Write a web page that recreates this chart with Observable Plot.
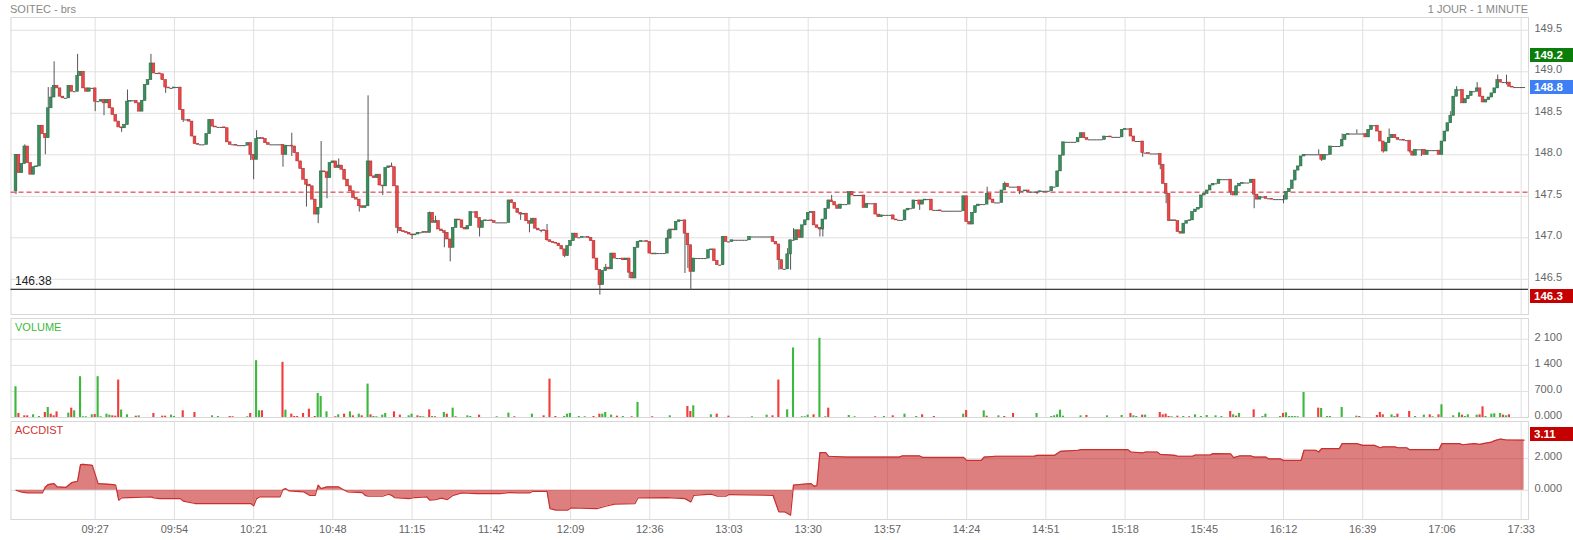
<!DOCTYPE html>
<html><head><meta charset="utf-8">
<script src="https://cdn.jsdelivr.net/npm/d3@7"></script>
<script src="https://cdn.jsdelivr.net/npm/@observablehq/plot@0.6"></script>
<style>
html,body{margin:0;padding:0;background:#fff;overflow:hidden;}
#wrap{position:relative;width:1573px;height:540px;overflow:hidden;font-family:"Liberation Sans",Arial,sans-serif;}
.t{position:absolute;font-size:11px;line-height:12px;white-space:nowrap;}
.box{position:absolute;left:1530px;width:39px;height:14px;line-height:14px;padding-left:4px;color:#fff;font-weight:bold;font-size:11.5px;}
.chart{position:absolute;left:0;}
#c2 svg{overflow:visible;}
</style></head><body>
<div id="wrap">
  <div class="t" style="left:10px;top:3px;color:#888;">SOITEC - brs</div>
  <div class="t" style="right:45px;top:3px;color:#888;">1 JOUR - 1 MINUTE</div>
  <div id="c1" class="chart" style="top:0px"></div>
  <div id="c3" class="chart" style="top:419px"></div>
  <div id="c2" class="chart" style="top:316px"></div>
  <div class="t" style="left:15px;top:275px;color:#222;font-size:12px;">146.38</div>
  <div class="t" style="left:15px;top:321px;color:#3cba3c;">VOLUME</div>
  <div class="t" style="left:15px;top:424px;color:#cc3333;">ACCDIST</div>
  <div class="box" style="top:47.5px;background:#0b7d0b;">149.2</div>
  <div class="box" style="top:79.5px;background:#3e7ff5;">148.8</div>
  <div class="box" style="top:288.5px;background:#c40000;">146.3</div>
  <div class="box" style="top:426.5px;background:#c40000;">3.11</div>
</div>
<script>
// ---------- DATA ----------
const timeTickLabels = ["09:27","09:54","10:21","10:48","11:15","11:42","12:09","12:36","13:03","13:30","13:57","14:24","14:51","15:18","15:45","16:12","16:39","17:06","17:33"];
const priceTicks = [146.5, 147.0, 147.5, 148.0, 148.5, 149.0, 149.5];
const volumeTicks = [0, 700, 1400, 2100];
const volumeTickLabels = ["0.000", "700.0", "1 400", "2 100"];
const accTicks = [0, 2];
const prevClose = 147.55;
const refLevel = 146.38;
const firstOpen = 147.56;
// one close per minute from 09:00
const closes = [
148.00,147.78,147.89,148.10,147.90,147.76,147.85,147.86,148.35,148.25,
148.20,148.56,148.69,148.83,148.80,148.70,148.68,148.68,148.83,148.76,
148.76,148.95,149.00,148.80,148.76,148.80,148.80,148.64,148.64,148.66,
148.62,148.66,148.56,148.48,148.40,148.33,148.32,148.36,148.64,148.65,
148.65,148.62,148.52,148.65,148.84,148.90,149.10,148.98,148.98,148.97,
148.90,148.81,148.80,148.80,148.81,148.81,148.54,148.42,148.42,148.40,
148.22,148.13,148.12,148.12,148.12,148.25,148.42,148.34,148.33,148.33,
148.33,148.32,148.15,148.12,148.12,148.11,148.11,148.11,148.11,148.14,
148.00,147.94,148.19,148.20,148.19,148.14,148.12,148.12,148.12,148.12,
148.12,148.00,148.11,148.11,148.10,148.02,147.92,147.83,147.70,147.64,
147.62,147.46,147.28,147.36,147.80,147.79,147.72,147.90,147.92,147.84,
147.87,147.82,147.70,147.62,147.56,147.48,147.46,147.38,147.36,147.38,
147.92,147.74,147.72,147.76,147.63,147.62,147.84,147.86,147.85,147.62,
147.12,147.08,147.07,147.06,147.04,147.03,147.04,147.06,147.06,147.07,
147.06,147.30,147.18,147.20,147.10,147.08,147.06,146.98,146.88,147.12,
147.22,147.21,147.12,147.10,147.14,147.31,147.31,147.24,147.12,147.20,
147.21,147.21,147.20,147.18,147.18,147.18,147.18,147.18,147.45,147.42,
147.35,147.30,147.28,147.29,147.20,147.17,147.23,147.11,147.09,147.09,
147.08,146.97,146.95,146.94,146.93,146.90,146.86,146.78,146.90,146.96,
147.05,147.00,147.00,147.01,147.01,147.00,146.96,146.75,146.61,146.43,
146.60,146.64,146.62,146.81,146.75,146.75,146.75,146.73,146.75,146.58,
146.51,146.88,146.95,146.96,146.96,146.95,146.81,146.80,146.81,146.81,
146.81,146.81,146.99,147.10,147.09,147.19,147.21,147.21,147.05,146.91,
146.59,146.75,146.75,146.75,146.75,146.75,146.85,146.86,146.72,146.67,
146.67,147.01,146.95,146.95,146.97,146.97,146.97,146.97,146.97,146.97,
147.01,147.01,147.01,147.01,147.01,147.01,147.01,147.01,146.95,146.92,
146.73,146.62,146.62,146.80,146.97,146.97,147.09,147.00,147.15,147.21,
147.30,147.31,147.15,147.12,147.10,147.22,147.35,147.45,147.43,147.39,
147.35,147.40,147.40,147.40,147.55,147.51,147.51,147.51,147.51,147.36,
147.41,147.41,147.41,147.28,147.25,147.27,147.27,147.27,147.27,147.22,
147.21,147.21,147.21,147.33,147.35,147.35,147.45,147.45,147.40,147.45,
147.46,147.46,147.33,147.33,147.33,147.32,147.32,147.32,147.32,147.32,
147.32,147.32,147.32,147.50,147.19,147.16,147.30,147.38,147.40,147.40,
147.40,147.53,147.46,147.42,147.42,147.42,147.57,147.65,147.61,147.61,
147.61,147.61,147.56,147.56,147.57,147.55,147.55,147.55,147.55,147.56,
147.56,147.56,147.56,147.61,147.61,147.80,147.99,148.15,148.15,148.15,
148.15,148.15,148.20,148.26,148.20,148.18,148.18,148.18,148.18,148.18,
148.18,148.22,148.22,148.21,148.21,148.21,148.21,148.30,148.31,148.31,
148.22,148.16,148.16,148.16,148.02,148.02,148.01,148.01,148.01,148.01,
147.88,147.65,147.53,147.20,147.21,147.20,147.07,147.05,147.17,147.20,
147.21,147.31,147.34,147.36,147.51,147.53,147.57,147.63,147.65,147.65,
147.70,147.70,147.70,147.70,147.55,147.51,147.62,147.65,147.66,147.66,
147.66,147.70,147.52,147.46,147.49,147.49,147.47,147.47,147.46,147.46,
147.46,147.46,147.46,147.55,147.59,147.69,147.81,147.86,147.98,148.00,
148.00,148.00,148.00,148.00,148.00,147.94,148.00,148.00,148.10,148.10,
148.10,148.10,148.18,148.24,148.25,148.25,148.25,148.25,148.25,148.25,
148.21,148.30,148.35,148.35,148.28,148.16,148.04,148.14,148.20,148.24,
148.20,148.18,148.18,148.17,148.17,148.04,147.99,148.06,148.06,148.06,
148.00,148.05,148.05,148.05,148.05,148.00,148.16,148.28,148.38,148.47,
148.70,148.78,148.78,148.62,148.67,148.71,148.76,148.76,148.80,148.70,
148.63,148.66,148.69,148.74,148.80,148.90,148.87,148.87,148.87,148.82,
148.81,148.81,148.81,148.81,148.81
];
// visible upper / lower wicks: [minute, price]
const highWicks = [[3,148.12],[10,148.25],[11,148.81],[12,148.81],[13,149.12],[21,149.21],[38,148.78],[46,149.21],[82,148.29],[94,148.26],[104,148.16],[110,147.95],[120,148.71],[121,147.90],[128,147.90],[141,147.31],[143,147.26],[169,147.46],[181,147.16],[201,146.68],[222,147.09],[263,146.87],[265,147.11],[278,147.51],[331,147.61],[337,147.67],[432,147.51],[444,148.06],[452,148.25],[457,148.30],[468,148.31],[489,148.52],[491,148.82],[498,148.87],[505,148.96],[508,148.96]];
const lowWicks = [[0,147.52],[10,148.00],[27,148.52],[30,148.47],[36,148.27],[51,148.74],[57,148.39],[80,147.93],[81,147.70],[91,147.85],[94,147.98],[99,147.37],[103,147.17],[106,147.47],[117,147.31],[125,147.51],[130,147.05],[135,146.98],[146,146.88],[148,146.71],[158,147.01],[172,147.21],[175,147.06],[179,147.06],[181,146.96],[187,146.76],[199,146.31],[209,146.51],[228,146.57],[229,146.63],[230,146.37],[260,146.61],[264,146.61],[274,147.01],[275,147.01],[308,147.33],[342,147.52],[348,147.52],[384,147.97],[390,147.82],[392,147.41],[414,147.51],[422,147.35],[432,147.41],[445,147.92],[466,148.02],[475,148.02],[479,147.98],[508,148.84]];
// volume bars: [minute, volume, up(1)/down(0)]
const volumes = [[0,825,1],[1,108,0],[3,45,0],[4,45,0],[6,72,1],[8,27,1],[10,135,0],[11,270,1],[12,90,0],[13,45,0],[14,150,0],[18,117,1],[19,250,0],[20,180,1],[22,1095,1],[23,20,1],[24,20,1],[26,72,1],[27,80,0],[28,1095,1],[29,20,1],[31,90,1],[32,63,1],[33,45,0],[34,36,0],[35,1005,0],[36,200,1],[38,72,1],[41,36,0],[42,45,1],[47,108,0],[50,36,0],[51,36,0],[53,63,1],[54,27,1],[57,180,0],[61,135,0],[67,45,1],[69,27,1],[73,27,0],[74,20,0],[79,20,1],[80,108,0],[82,1525,1],[83,180,1],[84,180,0],
[91,1480,0],[92,197,1],[94,90,0],[95,27,0],[96,27,0],[98,108,0],[100,224,0],[102,27,0],[103,646,1],[104,565,1],[106,152,1],[109,20,0],[110,72,1],[112,90,0],[114,152,1],[115,45,0],[117,90,1],[118,45,0],[120,897,1],[121,72,0],[122,27,1],[123,20,1],[125,63,1],[126,108,1],[129,152,0],[131,63,0],[134,45,1],[135,90,1],[137,45,0],[138,27,1],[139,20,1],[141,206,0],[142,27,1],[143,20,0],[146,135,1],[147,90,0],[149,251,1],[150,20,0],[154,45,1],[155,27,1],[158,63,0],[164,20,1],[168,117,1],[170,20,0],
[176,90,1],[180,45,0],[182,1030,0],[184,27,0],[187,27,1],[188,90,1],[189,108,1],[192,27,1],[194,20,1],[197,27,0],[199,90,0],[200,90,1],[201,135,1],[203,63,1],[205,36,0],[207,27,1],[210,20,0],[212,404,1],[217,20,0],[223,45,1],[229,296,0],[230,161,0],[231,314,1],[237,72,1],[239,90,0],[243,36,0],[251,20,1],[256,63,1],
[258,45,0],[260,1005,0],[263,206,1],[265,1866,1],[268,20,1],[269,20,1],[270,63,1],[272,72,0],[274,2126,1],[276,20,1],[277,251,0],[284,54,1],[286,20,1],[293,20,0],[296,27,1],[299,45,0],[303,90,1],[307,27,1],[309,72,0],[313,27,0],[323,90,1],[324,188,0],[330,180,1],[331,36,0],[335,45,1],[337,27,0],[340,108,0],
[348,108,1],[353,27,1],[354,45,1],[355,72,1],[356,197,1],[357,36,1],[363,45,1],[365,54,0],[372,45,1],[377,54,1],[380,108,0],[381,45,1],[382,27,1],[384,63,0],[385,63,1],[390,135,0],[391,72,0],[392,90,0],[393,27,0],[394,20,1],[396,36,0],[398,27,1],[400,20,0],[402,72,1],[404,27,1],[406,54,1],[409,45,1],[411,27,1],[414,161,0],[415,72,1],[416,36,0],[417,108,1],[422,206,0],[425,27,1],[426,90,1],
[431,27,1],[432,108,0],[433,125,1],[434,27,1],[435,27,1],[436,27,1],[437,20,1],[439,673,1],[444,251,0],[445,242,1],[447,27,1],[448,27,1],[452,270,1],[457,36,1],[458,27,0],[464,54,0],[465,135,0],[466,72,0],[469,72,1],[470,27,1],[471,90,0],[475,161,0],[477,27,1],[480,63,1],[482,72,0],[483,20,1],[485,72,0],[486,341,1],[490,45,1],[492,125,1],[493,63,0],[494,27,1],[495,72,1],[498,63,1],[499,72,0],[500,287,0],[501,27,1],[503,90,1],[504,99,1],[506,108,1],[507,63,0],[508,45,1],[509,72,0]];
// accumulation / distribution: [minute, value]
const accdist = [[0,0],[2,-0.12],[4,-0.17],[9,-0.17],[10,0.2],[11,0.36],[13,0.42],[14,0.22],[17,0.18],[19,0.48],[21,0.57],[22,1.62],[23,1.64],[26,1.58],[28,0.42],[33,0.36],[34,0.32],[35,-0.63],[36,-0.48],[46,-0.42],[47,-0.48],[49,-0.53],[56,-0.53],[57,-0.69],[61,-0.84],[80,-0.84],[81,-0.99],[82,-0.53],[83,-0.42],[90,-0.42],[91,0.04],[92,0.1],[93,-0.04],[98,-0.1],[100,-0.32],[102,-0.32],[103,0.32],[104,0.1],[106,0.21],[110,0.21],[111,0.1],[113,-0.1],[118,-0.15],[119,-0.32],[120,-0.38],[125,-0.38],[127,-0.25],[128,-0.32],[129,-0.46],[134,-0.53],[136,-0.46],[140,-0.42],[141,-0.63],[143,-0.59],[145,-0.5],[147,-0.59],[149,-0.32],[152,-0.17],[157,-0.21],[165,-0.21],[168,-0.15],[171,-0.17],[175,-0.17],[176,-0.08],[181,-0.08],[182,-1.16],[184,-1.26],[188,-1.26],[189,-1.12],[198,-1.16],[201,-1.01],[204,-0.88],[211,-0.84],[212,-0.48],[222,-0.46],[228,-0.53],[230,-0.74],[231,-0.32],[237,-0.25],[239,-0.38],[242,-0.38],[243,-0.27],[258,-0.32],[260,-1.37],[262,-1.37],[263,-1.47],[264,-1.58],[265,0.32],[268,0.38],[271,0.42],[272,0.25],[273,0.3],[274,2.38],[276,2.38],[277,2.15],[283,2.1],[301,2.1],[302,2.17],[308,2.17],[309,2.08],[323,2.08],[324,1.89],[329,1.89],[330,2.1],[334,2.15],[347,2.15],[348,2.21],[354,2.21],[356,2.46],[362,2.53],[363,2.57],[379,2.57],[380,2.42],[384,2.36],[385,2.42],[389,2.42],[390,2.27],[395,2.21],[396,2.15],[401,2.15],[402,2.23],[407,2.23],[408,2.32],[414,2.3],[415,2.06],[417,2.17],[421,2.17],[422,2.1],[426,2.1],[427,1.98],[431,1.98],[432,1.89],[438,1.89],[439,2.53],[443,2.53],[444,2.42],[445,2.63],[451,2.63],[452,2.95],[457,2.95],[459,2.84],[463,2.84],[465,2.69],[466,2.74],[470,2.74],[471,2.69],[474,2.69],[475,2.57],[485,2.57],[486,2.95],[492,2.95],[493,2.88],[497,2.95],[499,2.9],[500,2.95],[503,3.05],[504,3.14],[506,3.24],[508,3.18],[514,3.17]];

// ---------- BUILD ----------
const W = 1573, ML = 10.5, MR = 45;
const xDomain = [-1.7, 515.5];
const tickMinutes = timeTickLabels.map(s => { const [h, m] = s.split(":").map(Number); return h * 60 + m - 540; });
const tickLabelOf = new Map(tickMinutes.map((m, i) => [m, timeTickLabels[i]]));
const GRID = "#e0e0e0";
const FONT = '"Liberation Sans", Arial, sans-serif';
const baseStyle = {fontFamily: FONT, fontSize: "11px", color: "#666", background: "transparent"};

const candles = closes.map((c, i) => {
  const o = i === 0 ? firstOpen : closes[i - 1];
  return {m: i, o, c, h: Math.max(o, c), l: Math.min(o, c)};
});
highWicks.forEach(([m, v]) => { candles[m].h = Math.max(candles[m].h, v); });
lowWicks.forEach(([m, v]) => { candles[m].l = Math.min(candles[m].l, v); });
const bodies = candles.filter(d => d.o !== d.c);
const dojis = candles.filter(d => d.o === d.c);

const c1 = Plot.plot({
  width: W, height: 316, marginLeft: ML, marginRight: MR, marginTop: 17, marginBottom: 2,
  style: baseStyle,
  x: {domain: xDomain, axis: null},
  y: {domain: [146.076, 149.654], axis: null},
  color: {type: "identity"},
  marks: [
    Plot.gridY(priceTicks, {stroke: GRID, strokeOpacity: 1}),
    Plot.gridX(tickMinutes, {stroke: GRID, strokeOpacity: 1}),
    Plot.frame({stroke: "#d8d8d8"}),
    Plot.ruleY([prevClose], {stroke: "#e01b2c", strokeDasharray: "5,3", strokeWidth: 1}),
    Plot.ruleY([refLevel], {stroke: "#000", strokeWidth: 1}),
    Plot.ruleX(candles.filter(d => d.h > d.l), {x: "m", y1: "l", y2: "h", stroke: "#555", strokeWidth: 1}),
    Plot.ruleY(dojis, {y: "c", x1: d => d.m - 0.5, x2: d => d.m + 0.5, stroke: "#555", strokeWidth: 1}),
    Plot.rect(bodies, {x1: d => d.m - 0.46, x2: d => d.m + 0.46, y1: "o", y2: "c",
      fill: d => d.c > d.o ? "#3b8d5d" : "#e84848",
      stroke: d => d.c > d.o ? "#2b6c47" : "#b83434", strokeWidth: 0.6}),
    Plot.axisY(priceTicks, {anchor: "right", tickSize: 0, tickPadding: 6, tickFormat: d3.format(".1f"), dy: -2, fill: "#666", label: null})
  ]
});
document.getElementById("c1").appendChild(c1);

const c2 = Plot.plot({
  width: W, height: 102, marginLeft: ML, marginRight: MR, marginTop: 2, marginBottom: 1,
  style: baseStyle,
  x: {domain: xDomain, axis: null},
  y: {domain: [0, 2657], axis: null},
  color: {type: "identity"},
  marks: [
    Plot.gridY(volumeTicks, {stroke: GRID, strokeOpacity: 1}),
    Plot.gridX(tickMinutes, {stroke: GRID, strokeOpacity: 1}),
    Plot.frame({stroke: "#d8d8d8"}),
    Plot.rectY(volumes, {x1: d => d[0] - 0.36, x2: d => d[0] + 0.36, y: d => d[1],
      fill: d => d[2] ? "#3cb83c" : "#f23b3b"}),
    Plot.axisY(volumeTicks, {anchor: "right", tickSize: 0, tickPadding: 6,
      tickFormat: d => volumeTickLabels[volumeTicks.indexOf(d)], dy: -2, fill: "#666", label: null})
  ]
});
document.getElementById("c2").appendChild(c2);

const c3 = Plot.plot({
  width: W, height: 121, marginLeft: ML, marginRight: MR, marginTop: 2, marginBottom: 21,
  style: baseStyle,
  x: {domain: xDomain, axis: null},
  y: {domain: [-1.85, 4.35], axis: null},
  marks: [
    Plot.gridY(accTicks, {stroke: GRID, strokeOpacity: 1}),
    Plot.gridX(tickMinutes, {stroke: GRID, strokeOpacity: 1}),
    Plot.areaY(accdist, {x: d => d[0], y: d => d[1], fill: "#c41e1e", fillOpacity: 0.57}),
    Plot.lineY(accdist, {x: d => d[0], y: d => d[1], stroke: "#c8302f", strokeWidth: 1.2}),
    Plot.frame({stroke: "#d8d8d8"}),
    Plot.axisY(accTicks, {anchor: "right", tickSize: 0, tickPadding: 6, tickFormat: d3.format(".3f"), dy: -2, fill: "#666", label: null}),
    Plot.axisX(tickMinutes, {anchor: "bottom", tickSize: 0, tickPadding: 6, tickFormat: d => tickLabelOf.get(d), fill: "#666", label: null})
  ]
});
document.getElementById("c3").appendChild(c3);
</script>
</body></html>
